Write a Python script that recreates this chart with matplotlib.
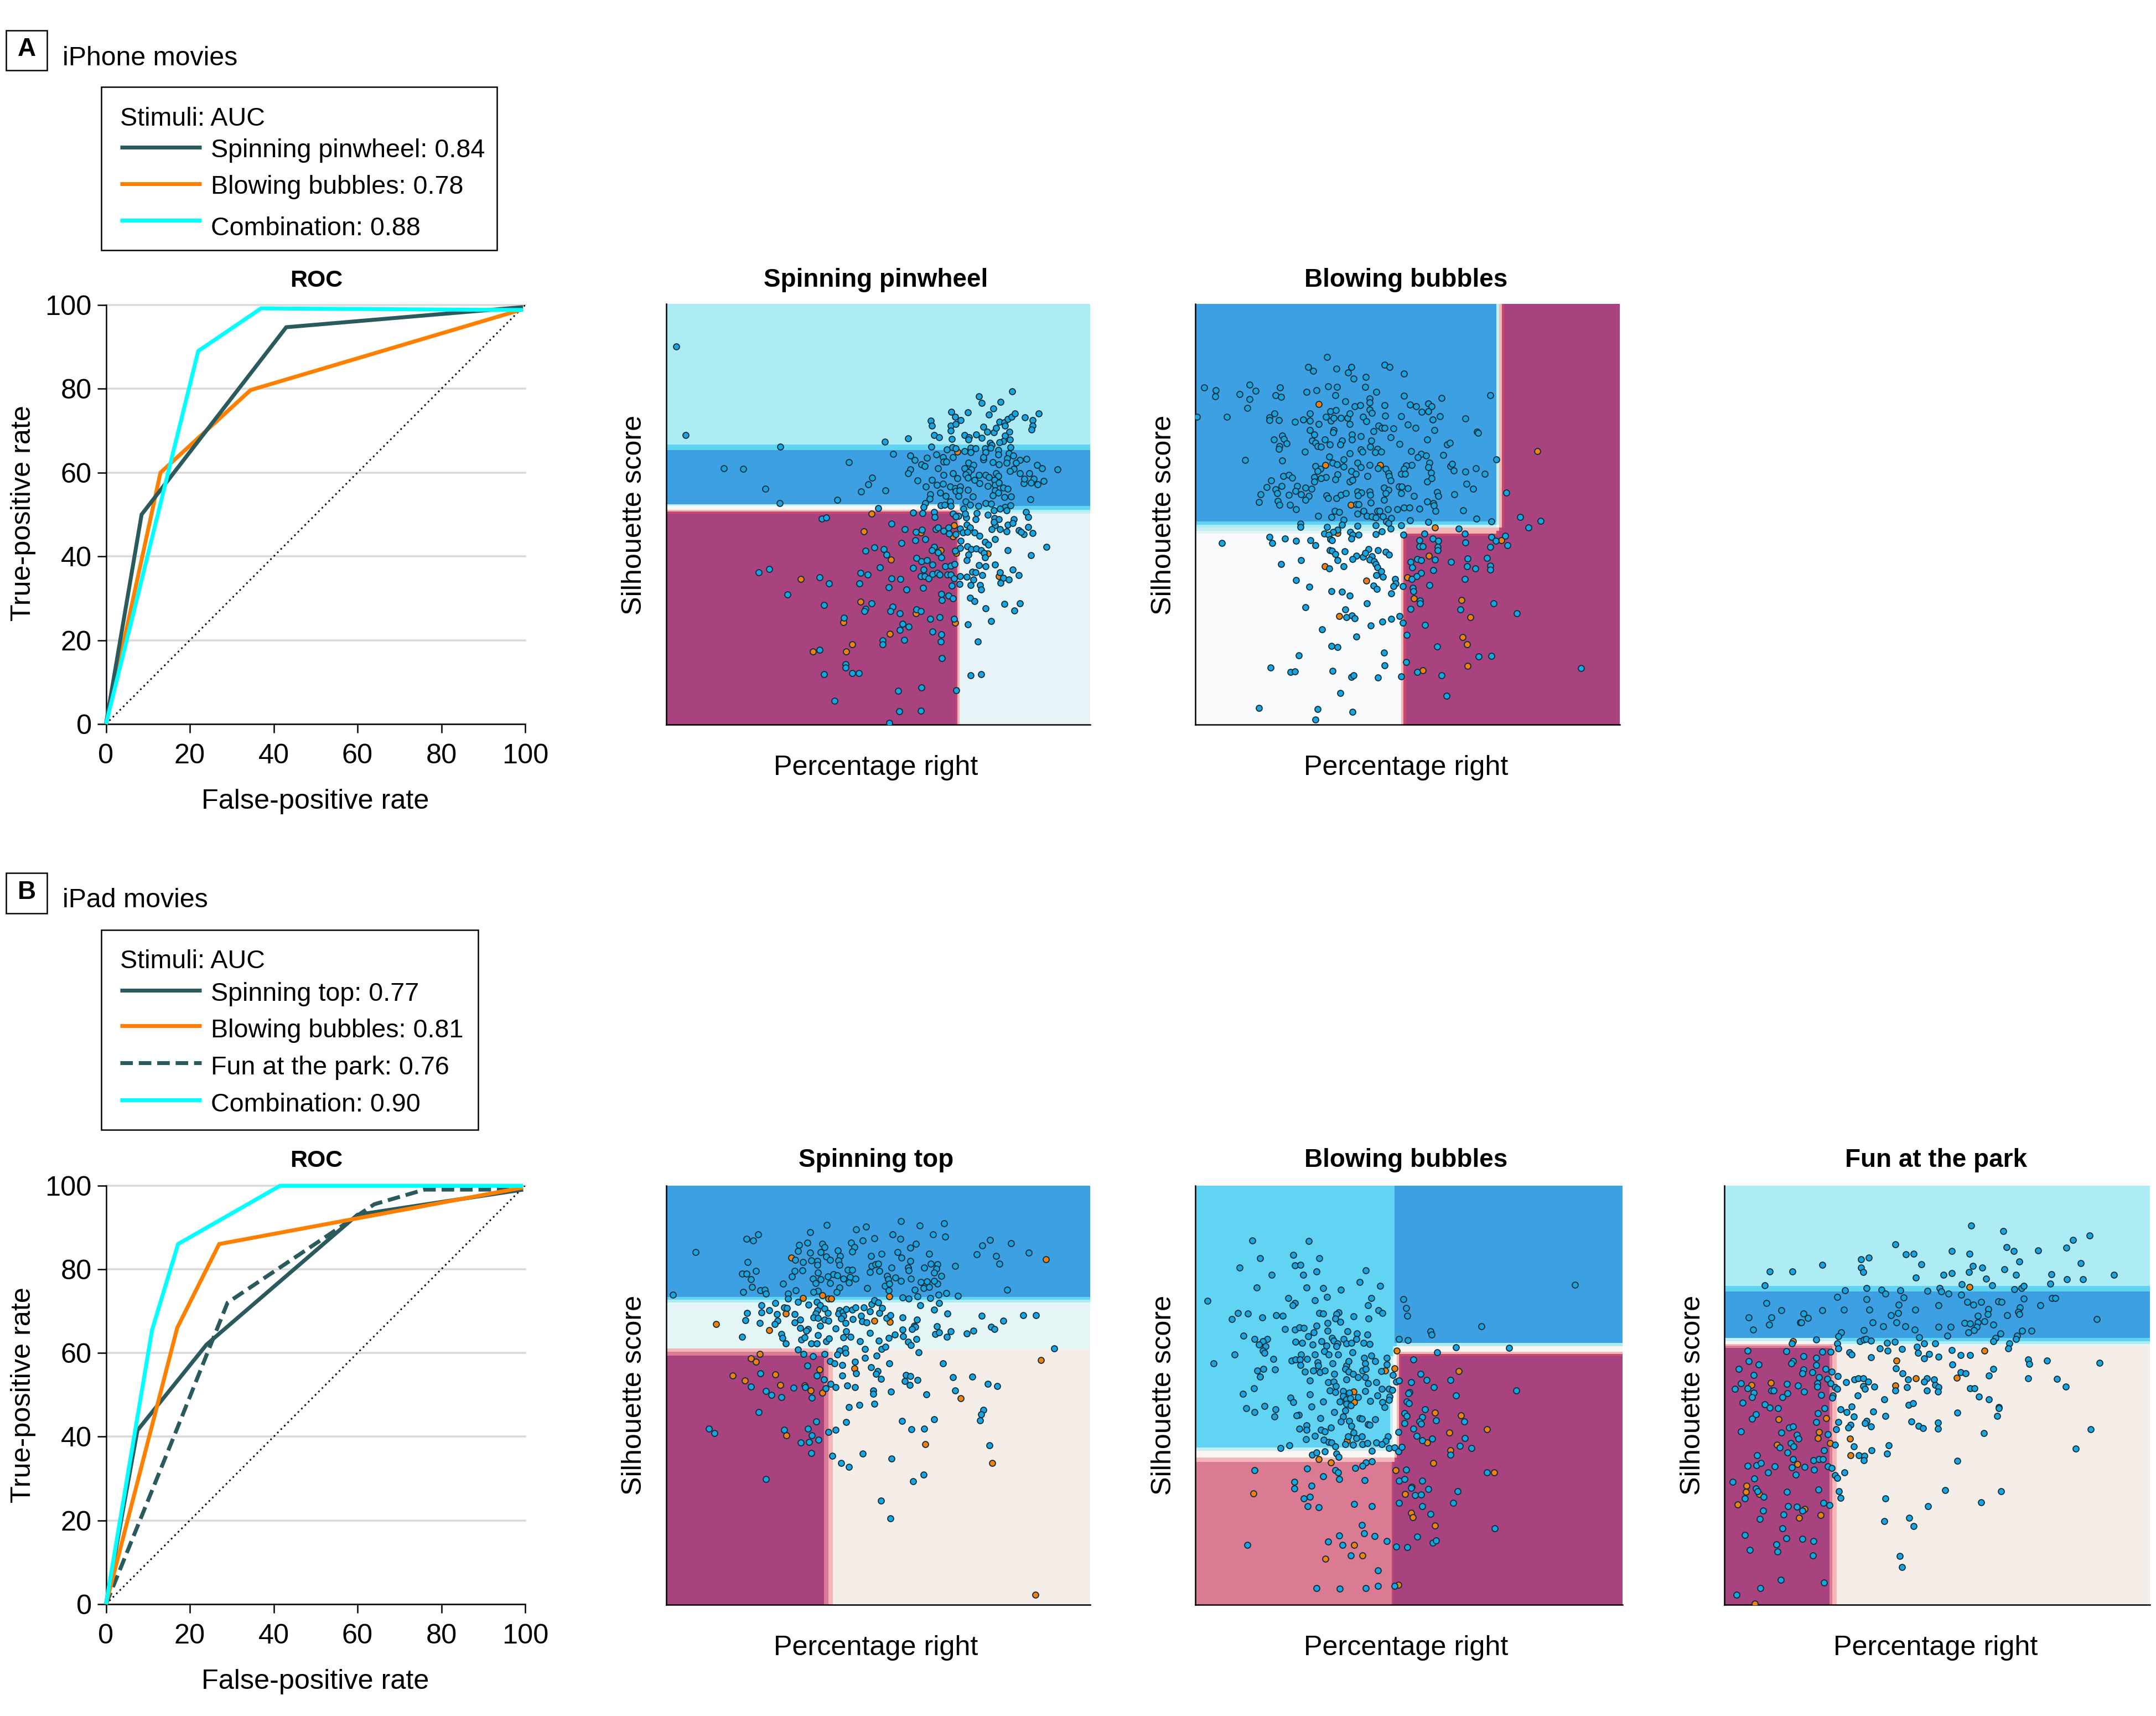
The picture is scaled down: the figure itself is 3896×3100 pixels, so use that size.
"""
plot.py — ROC curves and decision-region scatter panels for iPhone and iPad movies.
"""

import matplotlib
matplotlib.use("Agg")
import matplotlib.pyplot as plt
from matplotlib.colors import ListedColormap
from matplotlib.patches import Rectangle
import numpy as np

# ── Configuration ──────────────────────────────────────────────────────

WIDTH, HEIGHT = 3896, 3100
DPI = 300
FONT = ["Liberation Sans", "DejaVu Sans"]
FS_LABEL = 12.1
FS_LEGEND = 11.2
FS_HEAD = 11.6
FS_TITLE = 11

TEAL = "#2B5A5C"
ORANGE = "#FF8000"
CYAN = "#00FFFF"
GRID = "#D9D9D9"
DOT_BLUE = "#16A6E2"
DOT_ORANGE = "#F57F0C"

REGION_COLORS = {
    "L": "#AEECF5",  # light cyan
    "M": "#60D4F2",  # mid cyan
    "B": "#3DA0E3",  # blue
    "C": "#C4F0F5",  # pale cyan
    "W": "#FBF6F4",  # boundary white
    "R": "#F4B6B6",  # rose
    "D": "#C9466F",  # dark rose
    "U": "#A84380",  # purple
    "E": "#E6F4F8",  # pale blue
    "F": "#F5EDE8",  # cream
    "K": "#DA7A93",  # pink
    "N": "#F8FAFC",  # near white
    "G": "#E4F5F6",  # pale teal
}

# ── ROC data ───────────────────────────────────────────────────────────

FPR_A_PINWHEEL = [0, 8.5, 43, 99.5]
TPR_A_PINWHEEL = [0, 50, 94.7, 99.5]
FPR_A_BUBBLES = [0, 13, 34.5, 99.5]
TPR_A_BUBBLES = [0, 60, 79.7, 99]
FPR_A_COMBO = [0, 22, 37, 99.5]
TPR_A_COMBO = [0, 89, 99.2, 98.8]

FPR_B_TOP = [0, 7.5, 24, 60, 99.5]
TPR_B_TOP = [0, 41.5, 62, 93, 99]
FPR_B_BUBBLES = [0, 17, 27, 99.5]
TPR_B_BUBBLES = [0, 66, 86, 99.5]
FPR_B_PARK = [0, 17, 29, 64, 76, 99.5]
TPR_B_PARK = [0, 42, 72, 95.5, 99, 99]
FPR_B_COMBO = [0, 11, 17.2, 41.5, 99.5]
TPR_B_COMBO = [0, 65.5, 86, 99.9, 99.9]

ROC_TICKS = [0, 20, 40, 60, 80, 100]

# ── Decision regions: cell edges and one row of colour codes per y band ──

A1_XE = [94, 1005, 1011, 1017, 1429]
A1_YE = [85, 528, 545, 716, 722, 733, 739, 745, 1410]
A1_CELLS = ["LLLL", "MMMM", "BBBB", "CCCB", "WWWM", "RRRL", "DDRC", "UDRE"]

A2_XE = [105, 752, 760, 768, 1052, 1060, 1070, 1077, 1440]
A2_YE = [85, 770, 780, 790, 800, 808, 815, 1410]
A2_CELLS = ["BBBBCRDU", "MMMMCRDU", "LLLCWRDU", "CCCRRDUU", "GGRRDUUU", "NNRDDUUU", "NRDUUUUU"]

B1_XE = [94, 590, 605, 619, 1429]
B1_YE = [73, 423, 432, 441, 585, 596, 607, 1391]
B1_CELLS = ["BBBB", "MMMM", "LLLL", "GGGG", "RRFF", "KKRF", "UKRF"]

B2_XE = [105, 718, 723, 727, 733, 740, 746, 752, 1450]
B2_YE = [73, 568, 578, 595, 603, 610, 897, 907, 928, 942, 1391]
B2_CELLS = ["MMMMBBBB", "MMMMMLLL", "MMMCWWWW", "MMMCWRRR", "MMMCWRDD",
            "MCCWWRDU", "CCCWWRDU", "WWWWRDUU", "RRRRDUUU", "KKDUUUUU"]

B3_XE = [105, 462, 470, 485, 1547]
B3_YE = [73, 388, 405, 552, 562, 571, 577, 583, 1391]
B3_CELLS = ["LLLL", "MMMM", "BBBB", "CCCM", "WWWL", "RRRG", "KKRF", "UKRF"]

# ── Scatter data: (percentage right, silhouette score) in read-off chart units ──

A1_BLUE = [
    (125,219),(155,499),(453,534),(275,602),(336,605),(406,667),(451,713),(669,583),(808,558),(782,519),
    (855,508),(742,632),(730,653),(707,676),(785,672),(633,702),(762,729),(1184,361),(1078,376),(1087,397),
    (1147,394),(1124,415),(1110,434),(1043,427),(991,425),(1004,440),(1022,451),(927,453),(931,468),(990,468),
    (1005,463),(990,484),(937,499),(953,506),(993,511),(1033,498),(1047,505),(1045,513),(1070,497),(1087,507),
    (1092,472),(1104,487),(1125,489),(1133,476),(1144,456),(1158,458),(1160,468),(1175,487),(1160,500),(1176,512),
    (1155,518),(1144,520),(1114,522),(1118,530),(1170,447),(1182,441),(1192,431),(1224,443),(1248,451),(1247,468),
    (1244,480),(1267,431),(928,535),(978,543),(995,537),(1005,540),(1033,548),(1053,538),(1068,540),(1053,553),
    (1098,540),(1100,553),(1116,538),(1140,546),(1178,537),(1140,560),(1173,555),(1187,562),(1168,572),(1208,576),
    (1228,574),(1195,585),(1188,605),(1177,612),(1208,618),(1237,619),(1219,649),(1222,636),(1252,636),(1242,648),
    (1263,653),(1282,643),(1261,592),(1277,603),(1326,607),(1241,700),(862,562),(876,577),(898,590),(908,595),
    (915,569),(944,559),(965,568),(968,582),(976,582),(996,568),(1092,575),(1093,568),(1122,584),(1142,590),
    (1165,586),(1045,585),(1062,592),(1034,603),(1055,607),(1045,615),(1036,622),(1044,632),(1078,623),(1100,623),
    (1110,630),(1132,618),(1140,628),(1128,640),(1065,640),(1080,650),(1106,658),(1130,655),(1142,648),(1155,663),
    (1170,668),(1130,672),(1140,680),(949,603),(862,607),(855,618),(886,642),(931,640),(946,655),(965,652),
    (968,623),(997,618),(1010,634),(912,660),(988,660),(1003,665),(1020,660),(1005,675),(1018,672),(1043,671),
    (956,679),(974,690),(925,685),(923,698),(1015,690),(1060,692),(1122,688),(1158,694),(1180,692),(910,712),
    (905,725),(958,720),(970,718),(988,708),(990,722),(1037,708),(1050,718),(1030,730),(1077,722),(1100,712),
    (1117,714),(1160,724),(1178,720),(1145,730),(1125,735),(1107,750),(1072,744),(1038,758),(1035,745),(1015,752),
    (1068,764),(1128,760),(1142,764),(1165,735),(1188,764),(1226,740),(1233,756),(871,742),(901,744),(938,740),
    (940,756),(996,745),(1005,755),(803,778),(846,794),(880,804),(900,797),(878,830),(834,838),(910,826),
    (943,794),(950,790),(968,800),(982,790),(985,808),(1005,810),(1020,793),(1028,805),(1040,780),(1050,790),
    (1042,803),(1065,805),(1080,815),(1130,782),(1125,772),(1118,795),(1145,795),(1165,802),(1170,780),(1185,775),
    (1205,798),(1220,810),(1212,803),(1234,787),(1248,807),(1129,826),(1021,832),(1020,853),(1042,848),(1055,858),
    (1070,855),(1085,860),(1097,835),(1108,843),(1095,870),(1097,883),(1170,860),(1292,850),(1242,877),(1003,862),
    (1045,875),(1040,892),(1078,908),(1099,912),(1129,907),(1185,921),(1205,940),(1145,930),(1155,948),(1173,953),
    (1146,963),(1058,928),(1068,930),(1090,940),(1062,953),(1083,970),(1052,970),(1085,985),(1020,942),(1040,945),
    (1017,968),(721,862),(750,852),(779,857),(788,875),(938,850),(930,860),(950,868),(960,883),(882,886),
    (898,895),(915,892),(932,907),(972,912),(990,910),(1002,905),(871,917),(904,921),(895,942),(908,942),
    (920,950),(932,936),(948,932),(955,938),(980,937),(990,938),(1000,950),(993,972),(767,915),(706,933),
    (728,937),(803,950),(831,951),(702,966),(795,978),(850,984),(902,980),(584,761),(598,758),(385,931),
    (418,920),(577,947),(607,965),(476,1001),(590,1034),(741,1029),(722,1046),(718,1052),(806,1038),(800,1053),
    (830,1060),(882,1048),(896,1052),(926,1077),(955,1071),(960,998),(982,1004),(997,1012),(962,1018),(1000,1077),
    (1044,1095),(1099,1044),(1158,1030),(1207,1028),(1191,1051),(1117,1084),(1050,1010),(1064,1021),(654,1073),(838,1092),
    (857,1102),(830,1112),(844,1143),(776,1145),(775,1158),(933,1117),(960,1125),(958,1148),(1075,1148),(577,1174),
    (962,1201),(658,1220),(658,1230),(590,1252),(680,1248),(700,1247),(1053,1254),(1085,1251),(824,1304),(898,1293),
    (1007,1302),(623,1335),(828,1368),(896,1367),(797,1405),
]
A1_ORANGE = [
    (1010,550),(741,745),(1000,782),(895,805),(997,818),(717,801),(958,860),(1008,870),(802,891),(1107,872),
    (1142,942),(517,951),(705,1023),(880,1060),(652,1087),(1003,1090),(798,1124),(679,1158),(555,1180),(660,1180),
]

A2_BLUE = [
    (520,253),(460,284),(476,296),(549,289),(595,284),(585,302),(603,320),(641,315),(700,277),(716,284),
    (761,304),(132,349),(275,340),(294,358),(169,357),(168,377),(245,369),(276,385),(268,412),(372,348),
    (358,372),(374,378),(454,362),(486,357),(523,344),(551,346),(640,347),(545,372),(674,362),(654,383),
    (654,395),(576,392),(606,407),(624,404),(700,404),(762,374),(880,382),(780,403),(800,408),(838,398),
    (849,407),(817,425),(838,423),(1032,372),(110,440),(205,440),(338,443),(354,430),(338,451),(368,451),
    (419,457),(444,450),(466,430),(466,452),(494,464),(515,440),(530,424),(547,420),(532,453),(540,445),
    (562,445),(584,444),(590,431),(590,464),(632,441),(642,454),(654,418),(660,429),(702,438),(752,439),
    (681,468),(692,475),(700,476),(728,477),(773,465),(798,475),(852,449),(874,439),(857,483),(955,446),
    (991,487),(995,492),(466,483),(480,497),(540,482),(539,489),(597,496),(666,486),(625,502),(598,512),
    (720,506),(353,513),(378,500),(384,510),(392,525),(370,533),(368,542),(473,516),(482,522),(490,533),
    (500,535),(512,513),(528,528),(566,515),(561,528),(659,516),(655,535),(748,526),(835,513),(897,527),
    (905,523),(449,551),(590,555),(625,543),(631,550),(677,541),(690,551),(670,553),(784,548),(884,561),
    (816,557),(830,562),(805,568),(261,576),(378,578),(526,566),(572,575),(1052,575),(536,585),(550,590),
    (483,595),(498,605),(489,612),(572,598),(615,585),(625,600),(654,592),(680,603),(703,605),(712,618),
    (596,612),(610,620),(785,592),(768,594),(762,604),(753,620),(765,620),(842,586),(838,600),(847,616),
    (907,595),(913,588),(917,609),(954,614),(988,602),(1015,621),(381,627),(399,623),(410,632),(479,630),
    (515,630),(500,635),(480,644),(552,622),(545,637),(590,645),(600,640),(647,628),(715,628),(720,642),
    (835,645),(848,635),(344,642),(329,662),(377,659),(358,669),(362,682),(310,685),(426,658),(420,674),
    (400,686),(437,685),(452,664),(470,668),(462,690),(452,702),(305,709),(365,705),(370,718),(402,718),
    (421,731),(518,688),(522,697),(549,697),(563,687),(578,681),(615,676),(628,680),(617,689),(654,676),
    (655,686),(698,664),(712,670),(703,682),(698,702),(746,660),(755,660),(773,666),(752,681),(792,690),
    (866,677),(869,690),(920,685),(957,652),(979,668),(835,708),(853,712),(860,737),(855,720),(657,711),
    (612,716),(618,716),(1084,679),(543,737),(558,740),(534,757),(492,752),(634,737),(615,746),(645,752),
    (660,755),(678,737),(684,737),(710,732),(741,731),(762,727),(778,727),(810,730),(947,736),(672,758),
    (695,755),(721,760),(706,770),(712,775),(780,766),(838,772),(989,761),(1037,771),(1127,757),(1152,789),
    (1191,769),(572,765),(567,780),(553,797),(519,787),(436,777),(435,788),(673,783),(720,793),(752,783),
    (615,784),(510,808),(538,804),(525,812),(592,803),(600,812),(618,812),(672,810),(692,801),(760,812),
    (825,808),(933,792),(952,808),(1036,819),(1079,815),(1050,832),(1087,845),(188,838),(339,819),(347,838),
    (387,825),(422,832),(467,830),(482,846),(530,826),(535,830),(595,825),(810,829),(851,825),(869,832),
    (810,848),(820,848),(867,850),(867,860),(954,836),(1033,850),(528,860),(535,862),(545,873),(575,865),
    (650,858),(679,860),(704,866),(714,875),(632,882),(640,870),(612,878),(600,888),(552,892),(660,880),
    (654,890),(668,895),(438,892),(374,905),(572,911),(526,918),(672,905),(678,915),(690,927),(675,940),
    (695,945),(803,888),(816,892),(782,898),(788,914),(859,890),(909,898),(961,887),(1022,885),(960,912),
    (985,919),(1033,910),(1033,922),(853,924),(816,933),(802,942),(785,952),(733,952),(735,966),(728,975),
    (757,974),(789,980),(790,990),(841,970),(952,951),(422,955),(464,976),(665,972),(676,982),(533,990),
    (566,992),(590,1003),(721,996),(812,1020),(812,1028),(451,1040),(644,1029),(782,1045),(938,1047),(1043,1029),
    (1117,1059),(576,1048),(580,1072),(598,1066),(607,1075),(747,1068),(722,1077),(694,1086),(657,1098),(757,1090),
    (827,1097),(503,1111),(611,1132),(770,1127),(534,1162),(553,1166),(865,1164),(430,1192),(699,1184),(996,1195),
    (1036,1193),(768,1213),(700,1224),(341,1231),(404,1244),(419,1242),(537,1241),(595,1260),(602,1254),(680,1262),
    (752,1258),(803,1244),(879,1254),(1318,1232),(896,1320),(561,1310),(306,1357),(490,1362),(600,1370),(483,1394),
]
A2_ORANGE = [
    (493,401),(514,593),(686,592),(594,717),(553,806),(858,790),(1181,548),(1068,829),(840,879),(512,911),
    (772,947),(643,957),(792,1013),(943,1017),(970,1071),(557,1069),(945,1135),(960,1158),(962,1226),(820,1239),
]

B1_BLUE = [
    (187,282),(115,416),(347,240),(367,246),(384,226),(350,313),(333,350),(347,350),(377,341),(361,367),
    (365,392),(337,407),(390,402),(405,400),(408,412),(461,382),(501,402),(478,412),(478,428),(547,220),
    (599,197),(538,252),(512,260),(508,278),(585,256),(592,266),(580,282),(547,284),(597,296),(635,276),
    (642,294),(691,210),(724,202),(749,238),(713,246),(676,252),(686,266),(679,280),(833,185),(892,198),
    (969,191),(934,226),(972,233),(806,226),(832,240),(880,256),(863,269),(823,282),(772,287),(739,295),
    (835,300),(922,287),(1071,289),(1090,261),(1113,244),(1179,254),(1236,283),(1132,295),(1143,318),(1004,326),
    (1168,401),(1013,419),(500,306),(524,314),(550,308),(569,310),(570,322),(610,306),(636,309),(640,323),
    (498,342),(522,340),(489,358),(572,346),(603,358),(620,352),(632,356),(556,366),(580,368),(565,380),
    (610,380),(652,366),(672,360),(665,337),(680,337),(690,366),(670,378),(640,394),(630,408),(572,404),
    (557,408),(740,325),(752,320),(762,318),(736,344),(765,341),(804,330),(855,330),(858,340),(863,310),
    (906,330),(927,318),(948,320),(945,334),(938,346),(961,357),(789,357),(793,368),(783,388),(797,382),
    (833,373),(815,363),(864,366),(895,377),(915,375),(905,395),(922,392),(948,381),(938,372),(876,400),
    (726,396),(794,402),(952,417),(975,411),(838,425),(858,428),(886,421),(926,427),(394,449),(349,473),
    (343,496),(394,472),(418,465),(438,442),(465,456),(474,458),(442,478),(445,498),(436,508),(388,505),
    (333,548),(509,438),(542,447),(568,438),(578,450),(570,465),(565,475),(592,460),(603,473),(558,488),
    (572,490),(592,494),(604,498),(498,477),(499,503),(515,494),(516,520),(540,524),(535,530),(578,513),
    (627,522),(658,505),(661,532),(640,465),(636,476),(650,470),(660,462),(680,464),(690,456),(652,482),
    (644,492),(681,493),(716,457),(736,468),(708,483),(711,500),(725,503),(741,446),(750,434),(762,441),
    (774,458),(765,473),(788,490),(800,480),(838,488),(894,449),(937,463),(954,442),(980,476),(883,495),
    (875,513),(878,517),(838,526),(840,547),(868,525),(946,516),(941,540),(954,534),(989,531),(1040,538),
    (1061,529),(1088,482),(1117,517),(1127,524),(1155,498),(1218,480),(1259,480),(456,540),(460,552),(471,569),
    (519,557),(530,550),(550,570),(568,570),(571,543),(598,562),(606,553),(652,550),(675,548),(704,563),
    (735,537),(764,561),(795,552),(813,541),(855,565),(865,575),(881,555),(977,549),(720,587),(772,587),
    (785,580),(640,593),(632,605),(657,585),(658,600),(889,597),(508,589),(527,603),(555,610),(593,602),
    (757,607),(720,615),(1315,586),(539,640),(610,625),(624,632),(649,637),(688,627),(797,633),(966,633),
    (738,645),(760,657),(755,666),(648,671),(691,664),(568,670),(590,683),(771,681),(848,668),(862,673),
    (885,684),(846,688),(860,700),(997,676),(1057,674),(612,696),(627,707),(664,702),(688,708),(596,710),
    (391,664),(361,706),(408,720),(425,731),(456,738),(494,709),(532,707),(552,740),(745,718),(745,728),
    (802,721),(913,729),(1003,718),(1107,697),(1136,704),(669,770),(702,763),(750,760),(385,785),(566,815),
    (661,817),(837,814),(938,808),(1093,778),(1085,793),(1083,811),(229,837),(245,851),(465,842),(541,838),
    (552,859),(574,872),(605,849),(628,841),(866,839),(906,837),(518,881),(543,879),(1112,890),(550,914),
    (617,923),(713,916),(803,932),(645,945),(670,958),(408,996),(905,982),(872,1003),(771,1064),(800,1120),
]
B1_ORANGE = [
    (488,300),(1289,305),(586,418),(605,428),(613,428),(524,427),(797,421),(471,475),(798,501),(749,498),
    (251,508),(418,528),(389,602),(361,616),(377,627),(577,651),(687,648),(303,670),(438,667),(341,687),
    (453,700),(530,702),(549,718),(586,725),(1274,622),(1022,742),(473,858),(909,886),(1121,946),(1256,1360),
]

B2_BLUE = [
    (285,245),(463,248),(413,291),(495,302),(308,301),(419,324),(436,322),(244,331),(345,353),(445,353),
    (487,343),(641,339),(298,393),(622,377),(687,389),(455,393),(508,395),(564,400),(1301,385),(397,427),
    (143,435),(481,434),(520,424),(419,443),(411,450),(659,427),(648,449),(760,431),(769,458),(773,483),
    (240,474),(270,476),(220,493),(316,488),(360,480),(381,482),(496,474),(508,476),(557,472),(550,478),
    (546,492),(562,501),(603,485),(651,492),(682,465),(694,473),(846,531),(849,542),(1006,516),(387,524),
    (419,526),(432,519),(446,521),(486,513),(477,534),(460,547),(521,505),(522,530),(584,532),(613,539),
    (646,542),(256,546),(291,555),(331,555),(318,563),(305,573),(327,578),(317,592),(322,600),(228,604),
    (421,564),(442,568),(474,573),(503,563),(536,552),(540,560),(552,570),(572,556),(580,569),(597,568),
    (612,556),(635,568),(653,572),(746,555),(774,559),(518,577),(511,594),(525,604),(555,604),(600,597),
    (549,578),(925,582),(1093,583),(867,597),(162,633),(351,618),(301,655),(319,650),(356,651),(308,674),
    (408,623),(421,620),(437,604),(434,620),(436,637),(457,618),(481,604),(490,628),(492,640),(476,655),
    (450,659),(497,660),(512,655),(543,665),(537,632),(580,640),(587,625),(636,614),(659,608),(672,625),
    (708,614),(640,632),(632,655),(642,650),(578,650),(588,658),(602,665),(618,675),(640,675),(691,657),
    (707,635),(727,668),(738,690),(746,687),(580,683),(648,695),(675,691),(465,686),(523,692),(540,690),
    (547,703),(529,718),(545,722),(290,711),(254,728),(465,729),(570,720),(590,725),(640,720),(692,712),
    (714,712),(725,716),(678,733),(717,737),(715,748),(656,750),(617,738),(404,740),(414,754),(507,752),
    (570,735),(560,752),(580,745),(592,742),(580,760),(595,765),(578,780),(694,755),(700,770),(265,773),
    (291,785),(323,767),(357,777),(354,800),(470,768),(430,794),(423,796),(543,786),(571,800),(498,804),
    (622,804),(630,806),(672,809),(564,816),(590,814),(648,824),(654,825),(597,830),(433,838),(455,828),
    (455,842),(500,841),(513,846),(532,834),(603,850),(482,860),(586,862),(612,868),(630,862),(712,863),
    (705,876),(454,871),(509,873),(525,880),(534,881),(578,887),(601,889),(631,887),(646,883),(675,881),
    (693,887),(374,898),(401,890),(546,893),(661,908),(714,899),(733,897),(745,910),(755,895),(472,919),
    (487,912),(513,910),(550,916),(556,926),(660,940),(641,944),(632,954),(745,848),(791,620),(814,666),
    (834,684),(785,692),(908,684),(856,708),(780,722),(775,727),(925,733),(1115,717),(770,752),(778,757),
    (763,789),(771,798),(828,777),(820,802),(862,812),(951,816),(810,816),(815,822),(763,821),(791,838),
    (802,860),(819,875),(851,870),(953,868),(975,898),(937,891),(909,920),(1024,975),(291,968),(457,963),
    (545,968),(554,976),(608,962),(508,987),(558,996),(638,999),(417,1005),(417,1026),(471,1017),(447,1057),
    (465,1052),(459,1081),(494,1085),(605,1075),(660,1082),(769,966),(746,1002),(764,996),(819,1002),(785,1024),
    (839,1027),(931,1035),(796,1047),(815,1046),(746,1072),(820,1082),(846,1106),(917,1072),(1048,1151),(630,1141),
    (558,1174),(636,1167),(670,1175),(524,1194),(569,1204),(269,1204),(595,1237),(708,1192),(738,1209),(772,1211),
    (803,1177),(852,1196),(862,1189),(680,1283),(487,1339),(559,1341),(641,1339),(680,1333),(732,1333),
]
B2_ORANGE = [
    (740,592),(732,648),(703,655),(603,721),(605,755),(582,876),(494,933),(531,944),(934,656),(859,787),
    (941,796),(1023,839),(904,850),(835,882),(909,906),(854,946),(735,968),(1046,975),(288,1042),(765,1043),
    (787,1020),(784,1103),(789,1117),(859,1143),(605,1204),(514,1248),(632,1236),(745,1329),
]

B3_BLUE = [
    (941,198),(1050,216),(1342,230),(1287,244),(684,257),(1061,266),(1086,279),(1168,276),(1264,269),(875,278),
    (935,287),(720,289),(747,288),(569,305),(595,300),(1104,311),(1312,317),(773,320),(436,323),(568,331),
    (575,345),(947,326),(978,331),(1054,336),(934,345),(259,343),(336,343),(848,354),(876,348),(1094,354),
    (1213,352),(1425,354),(754,363),(992,365),(1266,367),(1320,367),(242,386),(910,383),(1012,387),(1209,382),
    (1088,398),(1112,396),(1120,389),(587,395),(513,403),(637,400),(650,412),(702,403),(793,404),(834,396),
    (841,405),(864,413),(908,416),(488,424),(586,431),(713,425),(1215,427),(1226,427),(1120,428),(247,443),
    (695,448),(830,450),(928,438),(948,448),(975,438),(1034,437),(1044,438),(1176,450),(298,465),(437,465),
    (510,463),(597,463),(751,464),(1000,461),(1106,456),(1100,470),(1104,478),(694,474),(669,481),(374,476),
    (187,488),(264,487),(388,490),(1063,481),(963,483),(997,478),(1367,493),(688,503),(607,503),(361,503),
    (366,503),(256,510),(644,515),(719,516),(919,505),(937,507),(964,503),(987,499),(1016,511),(202,526),
    (578,528),(750,526),(831,517),(872,518),(961,517),(950,527),(932,535),(1113,530),(1146,530),(501,535),
    (491,547),(861,545),(1040,539),(1024,552),(1097,546),(1094,555),(417,558),(565,562),(577,558),(585,555),
    (601,560),(765,551),(1016,562),(333,569),(487,569),(657,567),(683,565),(781,570),(820,569),(1071,570),
    (758,580),(632,586),(707,587),(659,592),(491,586),(1067,585),(876,590),(183,592),(315,594),(437,596),
    (465,596),(529,597),(537,605),(761,600),(799,602),(906,606),(937,606),(781,616),(830,612),(601,613),
    (373,609),(417,615),(1134,620),(1138,634),(1199,624),(1376,631),(187,626),(222,635),(338,625),(332,633),
    (417,637),(877,636),(153,649),(374,652),(370,664),(403,660),(449,650),(468,658),(687,648),(1016,650),
    (204,669),(426,675),(453,681),(490,672),(708,664),(905,661),(922,663),(1001,671),(1134,680),(1232,681),
    (162,695),(316,696),(354,702),(420,695),(420,705),(465,695),(517,691),(546,682),(558,680),(575,680),
    (592,689),(727,682),(792,679),(815,682),(782,689),(141,712),(184,711),(264,718),(272,718),(375,721),
    (480,708),(488,713),(576,703),(581,712),(614,705),(684,718),(723,708),(820,700),(830,707),(792,717),
    (828,721),(937,710),(952,710),(1262,706),(205,725),(318,727),(199,739),(301,738),(434,732),(472,733),
    (470,741),(557,733),(646,745),(967,737),(1001,745),(166,756),(730,763),(744,757),(242,762),(258,772),
    (286,773),(445,773),(499,776),(537,769),(1036,770),(1036,773),(520,786),(609,784),(894,787),(212,792),
    (198,806),(422,789),(543,799),(651,797),(1030,798),(417,817),(491,817),(587,813),(582,821),(739,815),
    (764,830),(778,836),(829,819),(828,838),(162,846),(325,834),(337,831),(299,850),(532,826),(525,835),
    (601,831),(484,840),(456,856),(350,857),(357,870),(1346,840),(984,851),(330,884),(339,894),(293,897),
    (480,888),(543,893),(662,890),(603,905),(1295,901),(318,913),(443,906),(216,921),(561,921),(579,923),
    (657,917),(577,937),(895,939),(213,952),(229,945),(338,934),(406,937),(426,934),(438,933),(183,955),
    (276,957),(334,960),(377,958),(409,966),(456,957),(469,962),(254,975),(512,976),(346,982),(480,985),
    (488,993),(207,994),(133,1005),(212,1026),(218,1034),(317,1037),(424,1029),(494,1034),(853,1032),(1042,1034),
    (238,1052),(175,1057),(498,1056),(650,1058),(976,1069),(440,1072),(462,1079),(320,1081),(351,1083),(795,1081),
    (237,1096),(370,1096),(305,1108),(225,1122),(731,1119),(646,1129),(747,1144),(302,1152),(174,1172),(315,1183),
    (370,1185),(407,1192),(282,1202),(192,1220),(285,1224),(405,1237),(699,1239),(707,1274),(297,1314),(443,1323),
    (226,1339),(147,1360),
]
B3_ORANGE = [
    (935,392),(338,563),(987,593),(688,623),(753,679),(892,677),(684,702),(262,693),(196,701),(288,809),
    (450,805),(425,848),(422,867),(531,869),(283,889),(464,884),(533,921),(353,950),(180,1018),(179,1036),
    (223,1044),(150,1076),(377,1091),(432,1109),(358,1119),(208,1388),
]


def add_axes_px(fig, x0, y0, x1, y1, **kw):
    """Axes from pixel corners, y measured from the top of the figure."""
    return fig.add_axes([x0 / WIDTH, 1 - y1 / HEIGHT, (x1 - x0) / WIDTH, (y1 - y0) / HEIGHT], **kw)


def plot_roc(fig, y0, y1, curves):
    ax = add_axes_px(fig, 191.5, y0, 949, y1)
    ax.set_xlim(0, 100)
    ax.set_ylim(0, 100)
    ax.set_xticks(ROC_TICKS)
    ax.set_yticks(ROC_TICKS)
    ax.yaxis.grid(True, color=GRID, lw=0.85, clip_on=False)
    ax.set_axisbelow(True)
    for side in ["top", "right"]:
        ax.spines[side].set_visible(False)
    for side in ["left", "bottom"]:
        ax.spines[side].set_linewidth(0.6)
    ax.tick_params(axis="x", length=3.8, width=0.6, labelsize=FS_LABEL, pad=4.6)
    ax.tick_params(axis="y", length=3.8, width=0.6, labelsize=FS_LABEL, pad=2.4)
    ax.plot([0, 100], [0, 100], color="black", lw=0.7, ls=(0, (1, 2)), zorder=2)
    for xs, ys, color, ls in curves:
        ax.plot(xs, ys, color=color, lw=1.7, ls=ls, zorder=3, clip_on=False,
                solid_joinstyle="miter", solid_capstyle="butt")
    return ax


def plot_region(fig, box, xe, ye, cells, blue, orange):
    x0, y0, x1, y1 = box
    ax = add_axes_px(fig, x0, y0, x1, y1)
    keys = list(REGION_COLORS)
    cmap = ListedColormap([REGION_COLORS[k] for k in keys])
    grid = np.array([[keys.index(c) for c in row] for row in cells])
    ax.pcolormesh(xe, ye, grid, cmap=cmap, vmin=-0.5, vmax=len(keys) - 0.5, shading="flat", linewidth=0)
    ax.set_xlim(xe[0], xe[-1])
    ax.set_ylim(ye[-1], ye[0])
    for pts, color in [(orange, DOT_ORANGE), (blue, DOT_BLUE)]:
        arr = np.array(pts)
        ax.scatter(arr[:, 0], arr[:, 1], s=6.8, c=color, edgecolors="#0E2F3C", linewidths=0.45,
                   zorder=3, clip_on=True)
    ax.set_xticks([])
    ax.set_yticks([])
    for side in ["top", "right"]:
        ax.spines[side].set_visible(False)
    for side in ["left", "bottom"]:
        ax.spines[side].set_linewidth(0.6)
    return ax


def legend_block(ov, box, head_y, rows):
    x0, y0, x1, y1 = box
    ov.add_patch(Rectangle((x0, y0), x1 - x0, y1 - y0, fill=False, ec="black", lw=0.6))
    ov.text(217, head_y, "Stimuli: AUC", fontsize=FS_LEGEND, va="baseline", ha="left")
    for line_y, text_y, label, color, ls in rows:
        ov.plot([217, 364], [line_y, line_y], color=color, lw=1.7, ls=ls, solid_capstyle="butt")
        ov.text(381, text_y, label, fontsize=FS_LEGEND, va="baseline", ha="left")


def main():
    plt.rcParams["font.family"] = FONT
    fig = plt.figure(figsize=(WIDTH / DPI, HEIGHT / DPI), dpi=DPI)

    # Overlay in figure pixels for the labels, boxes and legends
    ov = fig.add_axes([0, 0, 1, 1], zorder=5)
    ov.set_xlim(0, WIDTH)
    ov.set_ylim(HEIGHT, 0)
    ov.axis("off")

    dash = (0, (3.2, 1.5))
    plot_roc(fig, 551, 1308, [
        (FPR_A_BUBBLES, TPR_A_BUBBLES, ORANGE, "-"),
        (FPR_A_PINWHEEL, TPR_A_PINWHEEL, TEAL, "-"),
        (FPR_A_COMBO, TPR_A_COMBO, CYAN, "-"),
    ])
    plot_roc(fig, 2141.5, 2898, [
        (FPR_B_TOP, TPR_B_TOP, TEAL, "-"),
        (FPR_B_PARK, TPR_B_PARK, TEAL, dash),
        (FPR_B_BUBBLES, TPR_B_BUBBLES, ORANGE, "-"),
        (FPR_B_COMBO, TPR_B_COMBO, CYAN, "-"),
    ])

    plot_region(fig, (1204, 549, 1970, 1309), A1_XE, A1_YE, A1_CELLS, A1_BLUE, A1_ORANGE)
    plot_region(fig, (2160, 549, 2927, 1309), A2_XE, A2_YE, A2_CELLS, A2_BLUE, A2_ORANGE)
    plot_region(fig, (1204, 2142, 1970, 2898.5), B1_XE, B1_YE, B1_CELLS, B1_BLUE, B1_ORANGE)
    plot_region(fig, (2160, 2142, 2932, 2898.5), B2_XE, B2_YE, B2_CELLS, B2_BLUE, B2_ORANGE)
    plot_region(fig, (3116, 2142, 3885, 2898.5), B3_XE, B3_YE, B3_CELLS, B3_BLUE, B3_ORANGE)

    # Panel letters and headers
    for box, letter, head, base in [((11, 55, 85, 127), "A", "iPhone movies", 118),
                                    ((11, 1577, 85, 1650), "B", "iPad movies", 1639)]:
        x0, y0, x1, y1 = box
        ov.add_patch(Rectangle((x0, y0), x1 - x0, y1 - y0, fill=False, ec="black", lw=0.6))
        ov.text((x0 + x1) / 2, (y0 + y1) / 2 - 2, letter, fontsize=FS_TITLE, fontweight="bold", ha="center", va="center")
        ov.text(113, base, head, fontsize=FS_HEAD, ha="left", va="baseline")

    legend_block(ov, (183, 157, 898, 452), 227, [
        (266, 284, "Spinning pinwheel: 0.84", TEAL, "-"),
        (332, 350, "Blowing bubbles: 0.78", ORANGE, "-"),
        (398, 425, "Combination: 0.88", CYAN, "-"),
    ])
    legend_block(ov, (183, 1680, 864, 2041), 1749, [
        (1789, 1808, "Spinning top: 0.77", TEAL, "-"),
        (1853, 1874, "Blowing bubbles: 0.81", ORANGE, "-"),
        (1920, 1941, "Fun at the park: 0.76", TEAL, dash),
        (1987, 2008, "Combination: 0.90", CYAN, "-"),
    ])

    # Titles
    for x, y, title, size in [(572, 518, "ROC", 10.3), (1583, 518, "Spinning pinwheel", FS_TITLE),
                              (2541, 518, "Blowing bubbles", FS_TITLE), (572, 2108, "ROC", 10.3),
                              (1583, 2108, "Spinning top", FS_TITLE), (2541, 2108, "Blowing bubbles", FS_TITLE),
                              (3498, 2108, "Fun at the park", FS_TITLE)]:
        ov.text(x, y, title, fontsize=size, fontweight="bold", ha="center", va="baseline")

    # Axis labels
    for y in [1461, 3051]:
        ov.text(570, y, "False-positive rate", fontsize=FS_LABEL, ha="center", va="baseline")
    for x, y in [(1583, 1400), (2541, 1400), (1583, 2990), (2541, 2990), (3498, 2990)]:
        ov.text(x, y, "Percentage right", fontsize=FS_LABEL, ha="center", va="baseline")
    for y in [927, 2520]:
        ov.text(42, y, "True-positive rate", fontsize=FS_LABEL, rotation=90, ha="center", va="center")
    for x, y in [(1146, 930), (2103, 930), (1146, 2520), (2103, 2520), (3059, 2520)]:
        ov.text(x, y, "Silhouette score", fontsize=FS_LABEL, rotation=90, ha="center", va="center")

    fig.savefig("out.png", dpi=DPI)


if __name__ == "__main__":
    main()
